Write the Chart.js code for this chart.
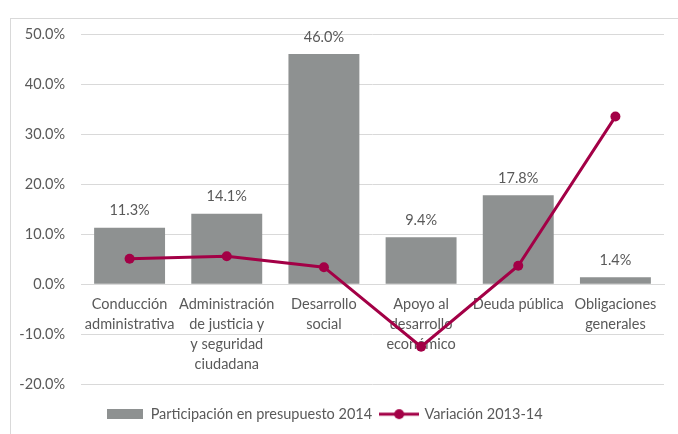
<!DOCTYPE html>
<html>
<head>
<meta charset="utf-8">
<script src="https://cdn.jsdelivr.net/npm/chart.js@4/dist/chart.umd.min.js"></script>
<style>
  body { margin: 0; background: #fff; overflow: hidden; }
  #wrap { position: relative; width: 678px; height: 434px; }
  #marco { position: absolute; left: 10px; top: 18px; width: 700px; height: 500px;
           border-left: 1px solid #d9d9d9; border-top: 1px solid #d9d9d9; }
  #myChart { position: absolute; left: 0; top: 0; }
</style>
</head>
<body>
<div id="wrap">
  <div id="marco"></div>
  <canvas id="myChart" width="678" height="434"></canvas>
</div>
<script>
var ctx = document.getElementById('myChart').getContext('2d');

// datos
const categorias = [
    ['Conducción', 'administrativa'],
    ['Administración', 'de justicia y', 'y seguridad', 'ciudadana'],
    ['Desarrollo', 'social'],
    ['Apoyo al', 'desarrollo', 'económico'],
    ['Deuda pública'],
    ['Obligaciones', 'generales']
]
const participacion = [11.3, 14.1, 46.0, 9.4, 17.8, 1.4]
const variacion = [5.1, 5.6, 3.4, -12.5, 3.7, 33.5]
const nombreBarras = 'Participación en presupuesto 2014'
const nombreLinea = 'Variación 2013-14'
const ticksY = { min: -20, max: 50, paso: 10 }

const gris = '#8e9191'
const granate = '#a30046'
const texto = '#595959'
const fuente = 'Lato'
const tam = 14.5

// iconos de la leyenda
function iconoBarra(){
    let c = document.createElement('canvas')
    c.width = 36; c.height = 10
    let x = c.getContext('2d')
    x.fillStyle = gris
    x.fillRect(0, 0, 36, 10)
    return c
}
function iconoLinea(){
    let c = document.createElement('canvas')
    c.width = 40; c.height = 12
    let x = c.getContext('2d')
    x.strokeStyle = granate
    x.lineWidth = 3
    x.beginPath(); x.moveTo(0, 6); x.lineTo(40, 6); x.stroke()
    x.fillStyle = granate
    x.beginPath(); x.arc(20, 6, 5, 0, Math.PI * 2); x.fill()
    return c
}

// etiquetas de valor encima de las barras
const etiquetas = {
    id: 'etiquetas',
    afterDatasetDraw(chart, args){
        if (args.index !== 1) return
        let c = chart.ctx
        c.save()
        c.font = tam + 'px ' + fuente
        c.fillStyle = texto
        c.textAlign = 'center'
        c.textBaseline = 'middle'
        args.meta.data.forEach((bar, i) => {
            c.fillText(participacion[i].toFixed(1) + '%', bar.x, bar.y - 17)
        })
        c.restore()
    }
}

// la leyenda del original no esta centrada en el lienzo
const moverLeyenda = {
    id: 'moverLeyenda',
    afterLayout(chart){
        chart.legend.left -= 7
        chart.legend.right -= 7
    }
}

var chart = new Chart(ctx, {
    type: 'bar',
    data: {
        labels: categorias,
        datasets: [{
            type: 'line',
            label: nombreLinea,
            data: variacion,
            borderColor: granate,
            backgroundColor: granate,
            borderWidth: 3,
            pointRadius: 5,
            pointBackgroundColor: granate,
            pointBorderWidth: 0,
            tension: 0,
            order: 0
        }, {
            label: nombreBarras,
            data: participacion,
            backgroundColor: gris,
            barPercentage: 0.73,
            categoryPercentage: 1,
            order: 1
        }]
    },
    options: {
        responsive: false,
        animation: false,
        layout: { padding: { left: 0, right: 14, top: 34, bottom: 2.6 } },
        plugins: {
            tooltip: { enabled: false },
            legend: {
                position: 'bottom',
                labels: {
                    usePointStyle: true,
                    pointStyleWidth: 36,
                    padding: 9,
                    color: texto,
                    font: { family: fuente, size: tam },
                    generateLabels(chart){
                        return [
                            { text: nombreBarras, pointStyle: iconoBarra(), fontColor: texto, datasetIndex: 1, lineWidth: 0 },
                            { text: nombreLinea, pointStyle: iconoLinea(), fontColor: texto, datasetIndex: 0, lineWidth: 0 }
                        ]
                    }
                }
            }
        },
        scales: {
            x: {
                position: { y: 0 },
                grid: { display: false, drawTicks: false },
                border: { display: true, color: '#d9d9d9' },
                ticks: {
                    color: texto,
                    padding: 10,
                    maxRotation: 0,
                    autoSkip: false,
                    font: { family: fuente, size: tam, lineHeight: 1.38 }
                }
            },
            relleno: {
                type: 'category',
                axis: 'x',
                position: 'bottom',
                grid: { display: false, drawTicks: false },
                border: { display: false },
                ticks: { display: false },
                afterFit(s){ s.height = 13.6 }
            },
            y: {
                min: ticksY.min,
                max: ticksY.max,
                afterFit(s){ s.width = 81 },
                grid: { color: '#d9d9d9', drawTicks: false },
                border: { display: false },
                ticks: {
                    stepSize: ticksY.paso,
                    padding: 16,
                    color: texto,
                    font: { family: fuente, size: tam },
                    callback: v => v.toFixed(1) + '%'
                }
            }
        }
    },
    plugins: [etiquetas, moverLeyenda]
});
</script>
</body>
</html>
